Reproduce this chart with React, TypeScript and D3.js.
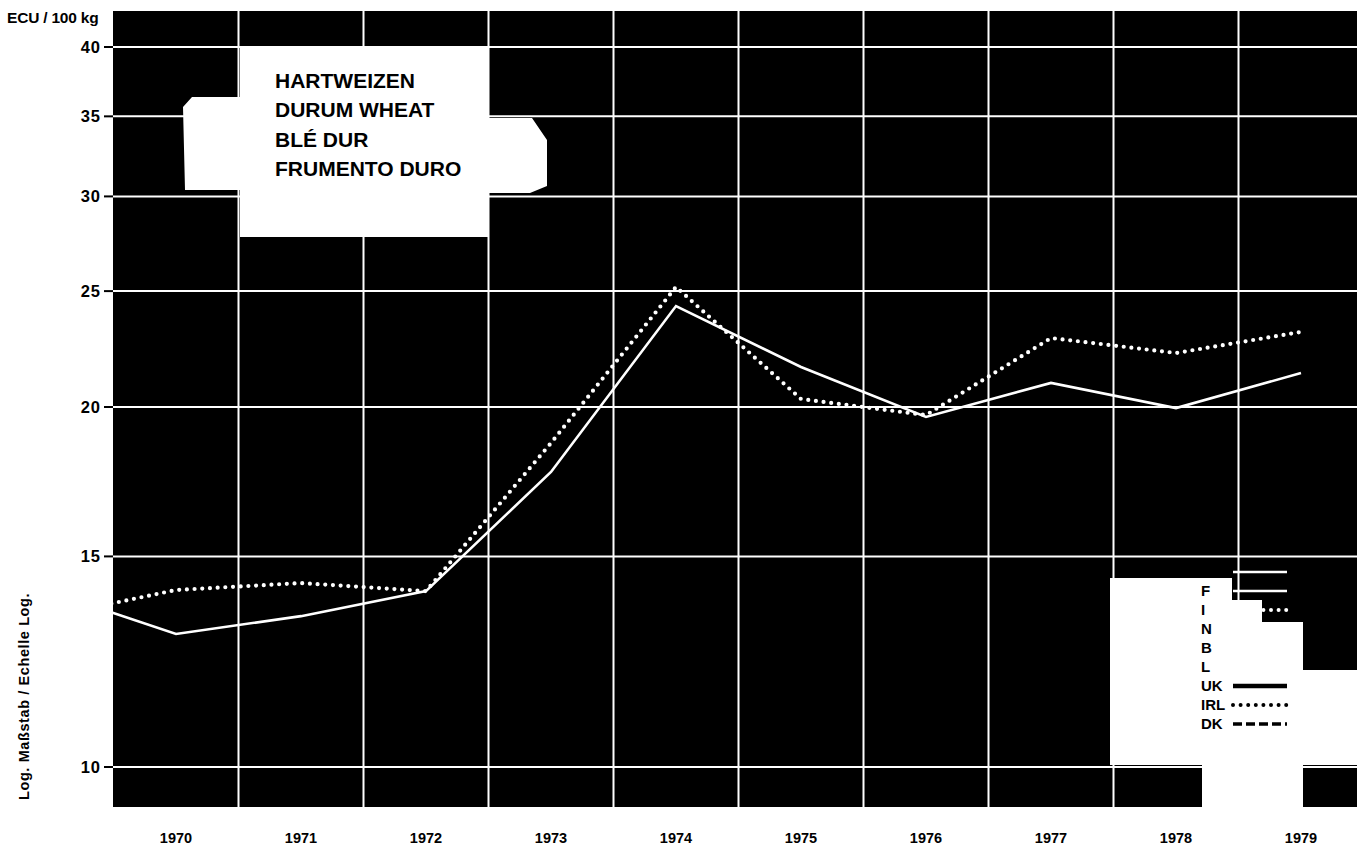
import React from 'react';
import * as d3 from 'd3';

// ---- data ----
const years = [1969, 1970, 1971, 1972, 1973, 1974, 1975, 1976, 1977, 1978, 1979];
const solidSeries = [14.0, 12.92, 13.37, 14.03, 17.65, 24.29, 21.6, 19.62, 20.95, 19.96, 21.35];
const dottedSeries = [13.37, 14.06, 14.25, 14.03, 18.66, 25.2, 20.31, 19.69, 22.84, 22.19, 23.11];
const yearLabels = ['1970', '1971', '1972', '1973', '1974', '1975', '1976', '1977', '1978', '1979'];
const yTicks = [10, 15, 20, 25, 30, 35, 40];
const titleLines = ['HARTWEIZEN', 'DURUM WHEAT', 'BLÉ DUR', 'FRUMENTO DURO'];
const legendLabels = ['D', 'F', 'I', 'N', 'B', 'L', 'UK', 'IRL', 'DK'];

const FONT = '"Liberation Sans", Arial, Helvetica, sans-serif';

// layout
const PL = 113, PR = 1357, PT = 11, PB = 807;

const legendStyle: Record<string, { stroke: string; width: number; dash?: string; cap?: string }> = {
  D: { stroke: '#fff', width: 2.5 },
  F: { stroke: '#fff', width: 2.5 },
  I: { stroke: '#fff', width: 4, dash: '0 7.6', cap: 'round' },
  N: { stroke: '#fff', width: 2 },
  B: { stroke: '#fff', width: 2 },
  L: { stroke: '#fff', width: 2 },
  UK: { stroke: '#000', width: 4.5 },
  IRL: { stroke: '#000', width: 4, dash: '0 7.6', cap: 'round' },
  DK: { stroke: '#000', width: 3.5, dash: '9 4' },
};

export default function App() {
  const x = d3.scaleLinear().domain([1970, 1979]).range([176, 1301]);
  const y = d3.scaleLog().domain([10, 40]).range([767, 47]);

  const line = d3
    .line<number>()
    .x((_, i) => x(years[i]))
    .y((d) => y(d))
    .curve(d3.curveLinear);

  const gridYears = yearLabels.slice(0, -1).map((s) => +s + 0.5);

  const titleBox = 'M240,48 L488,48 L488,118 L532,118 L547,140 L547,186 L530,193 L488,193 L488,237 L240,237 L240,190 L185,190 L183,107 L192,97 L240,97 Z';
  const legendBox = 'M1110,578 L1232,578 L1232,600 L1262,600 L1262,622 L1303,622 L1303,670 L1357,670 L1357,765 L1303,765 L1303,807 L1202,807 L1202,765 L1110,765 Z';

  const legendY0 = 571;
  const legendDy = 19;

  return (
    <svg
      width={1365}
      height={846}
      style={{ position: 'absolute', left: 0, top: 0, background: '#fff' }}
      fontFamily={FONT}
    >
      <defs>
        <clipPath id="plotClip">
          <rect x={PL} y={PT} width={PR - PL} height={PB - PT} />
        </clipPath>
      </defs>
      <rect x={PL} y={PT} width={PR - PL} height={PB - PT} fill="#000" />

      {/* grid */}
      {yTicks.map((t) => (
        <line key={'h' + t} x1={PL} x2={PR} y1={y(t)} y2={y(t)} stroke="#fff" strokeWidth={2} />
      ))}
      {gridYears.map((g) => (
        <line key={'v' + g} x1={x(g)} x2={x(g)} y1={PT} y2={PB} stroke="#fff" strokeWidth={2} />
      ))}

      {/* data */}
      <g clipPath="url(#plotClip)">
        <path d={line(solidSeries) || ''} fill="none" stroke="#fff" strokeWidth={2.6} strokeLinejoin="miter" />
        <path
          d={line(dottedSeries) || ''}
          fill="none"
          stroke="#fff"
          strokeWidth={4.2}
          strokeDasharray="0 7.7"
          strokeLinecap="round"
        />
      </g>

      {/* title box */}
      <path d={titleBox} fill="#fff" />
      {titleLines.map((t, i) => (
        <text key={t} x={275} y={88 + i * 29.3} fontSize={21} fontWeight={700} fill="#000">
          {t}
        </text>
      ))}

      {/* legend */}
      <path d={legendBox} fill="#fff" />
      {legendLabels.map((l, i) => {
        const ly = legendY0 + i * legendDy;
        const s = legendStyle[l];
        return (
          <g key={l}>
            <text x={1201} y={ly + 5.5} fontSize={15} fontWeight={700} fill="#000">
              {l}
            </text>
            <line
              x1={1233}
              x2={1287}
              y1={ly + 1}
              y2={ly + 1}
              stroke={s.stroke}
              strokeWidth={s.width}
              strokeDasharray={s.dash}
              strokeLinecap={(s.cap as any) || 'butt'}
            />
          </g>
        );
      })}

      {/* y axis */}
      {yTicks.map((t) => (
        <g key={'yt' + t}>
          <line x1={104} x2={PL} y1={y(t)} y2={y(t)} stroke="#000" strokeWidth={2} />
          <text
            x={101}
            y={y(t) + 6}
            textAnchor="end"
            fontSize={16.5}
            fontWeight={700}
            letterSpacing={1}
            fill="#000"
          >
            {t}
          </text>
        </g>
      ))}
      <text x={7} y={23} fontSize={15.5} fontWeight={700} fill="#000" letterSpacing={-0.2}>
        ECU / 100 kg
      </text>
      <text
        transform="translate(29,800) rotate(-90)"
        x={0}
        y={0}
        fontSize={14.5}
        fontWeight={700}
        letterSpacing={0.6}
        fill="#000"
      >
        Log. Maßstab / Echelle Log.
      </text>

      {/* x labels */}
      {yearLabels.map((yl) => (
        <text key={yl} x={x(+yl)} y={843} textAnchor="middle" fontSize={14.5} fontWeight={700} fill="#000">
          {yl}
        </text>
      ))}
    </svg>
  );
}
